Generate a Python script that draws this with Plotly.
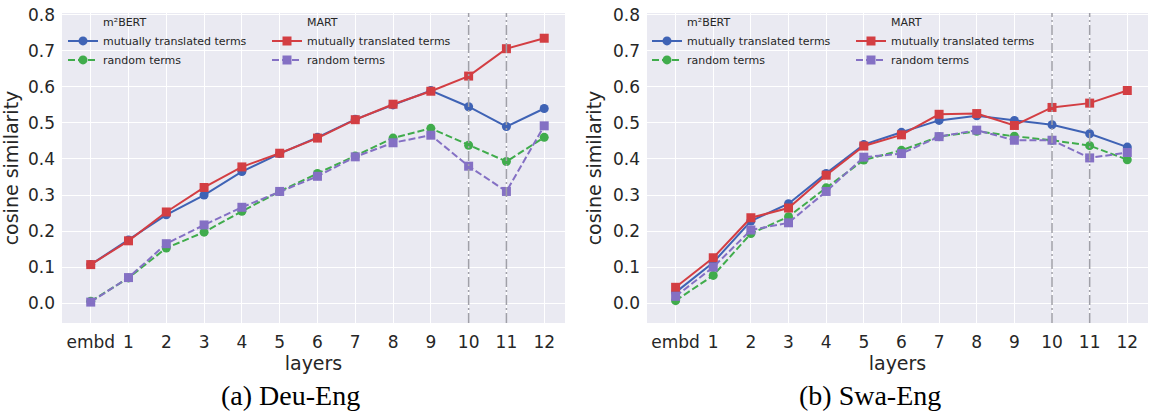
import plotly.graph_objects as go

layers = ["embd", "1", "2", "3", "4", "5", "6", "7", "8", "9", "10", "11", "12"]
y_ticks = [0.0, 0.1, 0.2, 0.3, 0.4, 0.5, 0.6, 0.7, 0.8]
marked_layers = ["10", "11"]

# (a) Deu-Eng
deu_m2bert_mutual = [0.107, 0.175, 0.245, 0.300, 0.365, 0.415, 0.460, 0.510, 0.550, 0.590, 0.545, 0.490, 0.540]
deu_m2bert_random = [0.005, 0.070, 0.153, 0.197, 0.255, 0.310, 0.360, 0.408, 0.458, 0.485, 0.438, 0.393, 0.460]
deu_mart_mutual = [0.107, 0.173, 0.253, 0.321, 0.378, 0.416, 0.458, 0.509, 0.552, 0.588, 0.630, 0.706, 0.735]
deu_mart_random = [0.003, 0.071, 0.165, 0.217, 0.266, 0.310, 0.352, 0.406, 0.445, 0.466, 0.380, 0.310, 0.492]

# (b) Swa-Eng
swa_m2bert_mutual = [0.030, 0.113, 0.228, 0.276, 0.360, 0.440, 0.474, 0.507, 0.520, 0.507, 0.495, 0.470, 0.433]
swa_m2bert_random = [0.007, 0.077, 0.193, 0.240, 0.320, 0.397, 0.424, 0.462, 0.477, 0.463, 0.452, 0.437, 0.398]
swa_mart_mutual = [0.044, 0.126, 0.237, 0.264, 0.355, 0.436, 0.467, 0.524, 0.526, 0.493, 0.543, 0.555, 0.590]
swa_mart_random = [0.019, 0.100, 0.203, 0.223, 0.310, 0.405, 0.415, 0.462, 0.480, 0.452, 0.452, 0.403, 0.418]

panels = [
    ("(a) Deu-Eng", deu_m2bert_mutual, deu_m2bert_random, deu_mart_mutual, deu_mart_random),
    ("(b) Swa-Eng", swa_m2bert_mutual, swa_m2bert_random, swa_mart_mutual, swa_mart_random),
]

BLUE = "#3F63B5"
GREEN = "#40AC4C"
RED = "#D33E43"
PURPLE = "#8470C4"
TEXT = "#262626"
BG = "#EAEAF2"

W, H = 1150, 417
M_T, M_B = 13, 94
plot_h = H - M_T - M_B
x_domains = [(62 / W, 565 / W), (647 / W, 1148 / W)]
caption_x = [290 / W, 870 / W]
caption_y = (H - M_B - 395) / plot_h
xs = list(range(len(layers)))

fig = go.Figure()

for p, (cap, m_mut, m_rand, a_mut, a_rand) in enumerate(panels):
    xa = "x" if p == 0 else "x2"
    ya = "y" if p == 0 else "y2"
    lg1 = "legend" if p == 0 else "legend3"
    lg2 = "legend2" if p == 0 else "legend4"
    # legend group title entries
    fig.add_trace(go.Scatter(x=[None], y=[None], mode="lines", name="m²BERT",
                             line=dict(color="rgba(0,0,0,0)", width=0),
                             xaxis=xa, yaxis=ya, legend=lg1, hoverinfo="skip"))
    fig.add_trace(go.Scatter(x=xs, y=m_mut, mode="lines+markers", name="mutually translated terms",
                             line=dict(color=BLUE, width=2),
                             marker=dict(symbol="circle", size=9, color=BLUE),
                             xaxis=xa, yaxis=ya, legend=lg1))
    fig.add_trace(go.Scatter(x=xs, y=m_rand, mode="lines+markers", name="random terms",
                             line=dict(color=GREEN, width=2, dash="7px,3px"),
                             marker=dict(symbol="circle", size=9, color=GREEN),
                             xaxis=xa, yaxis=ya, legend=lg1))
    fig.add_trace(go.Scatter(x=[None], y=[None], mode="lines", name="MART",
                             line=dict(color="rgba(0,0,0,0)", width=0),
                             xaxis=xa, yaxis=ya, legend=lg2, hoverinfo="skip"))
    fig.add_trace(go.Scatter(x=xs, y=a_mut, mode="lines+markers", name="mutually translated terms",
                             line=dict(color=RED, width=2),
                             marker=dict(symbol="square", size=9, color=RED),
                             xaxis=xa, yaxis=ya, legend=lg2))
    fig.add_trace(go.Scatter(x=xs, y=a_rand, mode="lines+markers", name="random terms",
                             line=dict(color=PURPLE, width=2, dash="7px,3px"),
                             marker=dict(symbol="square", size=9, color=PURPLE),
                             xaxis=xa, yaxis=ya, legend=lg2))
    for ml in marked_layers:
        fig.add_shape(type="line", xref=xa, yref=f"{ya} domain",
                      x0=layers.index(ml), x1=layers.index(ml), y0=0, y1=1,
                      line=dict(color="#A0A0A8", width=1.5, dash="10px,3px,2px,3px"), layer="above")
    fig.add_annotation(text=cap, xref="paper", yref="paper", x=caption_x[p], y=caption_y,
                       xanchor="center", yanchor="middle", showarrow=False,
                       font=dict(family="Liberation Serif", size=28, color="black"))

axis_common = dict(showgrid=True, gridcolor="white", gridwidth=1, zeroline=False,
                   showline=False, ticks="", automargin=False,
                   tickfont=dict(family="DejaVu Sans", size=17, color=TEXT))

for p in range(2):
    xkey = "xaxis" if p == 0 else "xaxis2"
    ykey = "yaxis" if p == 0 else "yaxis2"
    fig.update_layout(**{
        xkey: dict(axis_common, domain=list(x_domains[p]), range=[-0.76, 12.55],
                   tickvals=xs, ticktext=layers, ticklabelstandoff=7,
                   anchor="y" if p == 0 else "y2",
                   title=dict(text="layers", font=dict(family="DejaVu Sans", size=19, color=TEXT), standoff=2)),
        ykey: dict(axis_common, range=[-0.055, 0.805], tickvals=y_ticks, tickformat=".1f",
                   ticklabelstandoff=6, anchor="x" if p == 0 else "x2",
                   title=dict(text="cosine similarity", font=dict(family="DejaVu Sans", size=19, color=TEXT), standoff=6)),
    })

leg_common = dict(bgcolor="rgba(0,0,0,0)", font=dict(family="DejaVu Sans", size=11, color=TEXT),
                  xanchor="left", yanchor="top", y=1.018, tracegroupgap=0, itemclick=False)
fig.update_layout(
    legend=dict(leg_common, x=63 / W),
    legend2=dict(leg_common, x=267 / W),
    legend3=dict(leg_common, x=647 / W),
    legend4=dict(leg_common, x=851 / W),
)

fig.update_layout(width=W, height=H, margin=dict(l=0, r=0, t=M_T, b=M_B),
                  paper_bgcolor="white", plot_bgcolor=BG, showlegend=True)

fig.write_html("out.html")
